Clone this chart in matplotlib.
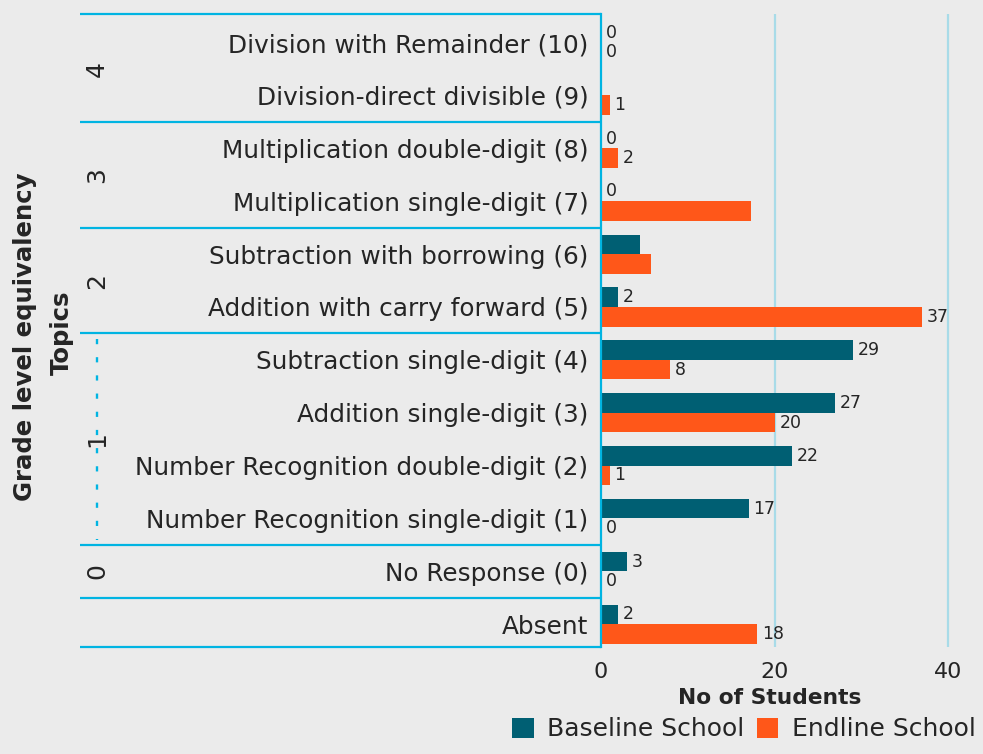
import matplotlib
matplotlib.use("Agg")
import matplotlib.pyplot as plt
import matplotlib.transforms as mtransforms
from matplotlib.patches import Patch
import numpy as np

# ---------------- data ----------------
topics = [
    "Division with Remainder (10)",
    "Division-direct divisible (9)",
    "Multiplication double-digit (8)",
    "Multiplication single-digit (7)",
    "Subtraction with borrowing (6)",
    "Addition with carry forward (5)",
    "Subtraction single-digit (4)",
    "Addition single-digit (3)",
    "Number Recognition double-digit (2)",
    "Number Recognition single-digit (1)",
    "No Response (0)",
    "Absent",
]
baseline = [0, 0, 0, 0, 4.5, 2, 29, 27, 22, 17, 3, 2]
endline = [0, 1, 2, 17.3, 5.8, 37, 8, 20, 1, 0, 0, 18]
baseline_labels = ["0", "", "0", "0", "", "2", "29", "27", "22", "17", "3", "2"]
endline_labels = ["0", "1", "2", "", "", "37", "8", "20", "1", "0", "0", "18"]
grade_groups = ["4", "3", "2", "1", "0", ""]
group_sizes = [2, 2, 2, 4, 1, 1]
x_ticks = [0, 20, 40]
series_names = ["Baseline School", "Endline School"]

# ---------------- style ----------------
plt.rcParams["font.family"] = ["DejaVu Sans"]
BG = "#ebebeb"
C_BASE = "#005f73"
C_END = "#ff5719"
C_LINE = "#00b4e2"
C_GRID = "#a8dbe8"
TXT = "#252525"

W, H = 983, 754
fig = plt.figure(figsize=(W / 100, H / 100), dpi=100, facecolor=BG)
ax = fig.add_axes([601 / W, (H - 647) / H, (W - 601) / W, (647 - 14) / H])
ax.set_facecolor(BG)

n = len(topics)
y = np.arange(n)
bh = 0.37
ax.barh(y - bh / 2, baseline, height=bh, color=C_BASE, zorder=3)
ax.barh(y + bh / 2, endline, height=bh, color=C_END, zorder=3)

xmax = 44.0
ax.set_xlim(0, xmax)
ax.set_ylim(11.43, -0.54)

# value labels
off = 0.55
for i in range(n):
    if baseline_labels[i]:
        ax.text(baseline[i] + off, y[i] - bh / 2, baseline_labels[i], va="center", ha="left",
                fontsize=12.5, color=TXT, zorder=4)
    if endline_labels[i]:
        ax.text(endline[i] + off, y[i] + bh / 2, endline_labels[i], va="center", ha="left",
                fontsize=12.5, color=TXT, zorder=4)

# grid
for xt in x_ticks[1:]:
    ax.axvline(xt, color=C_GRID, lw=1.6, zorder=1)

for s in ["top", "right", "bottom"]:
    ax.spines[s].set_visible(False)
ax.spines["left"].set_color(C_LINE)
ax.spines["left"].set_linewidth(1.6)
ax.spines["left"].set_zorder(5)

ax.set_yticks(y)
ax.set_yticklabels(topics, fontsize=17.8, color=TXT)
ax.tick_params(axis="y", length=0, pad=9)
ax.set_xticks(x_ticks)
ax.set_xticklabels([str(t) for t in x_ticks], fontsize=16, color=TXT)
ax.tick_params(axis="x", length=0, pad=11)

# group band lines
trans = mtransforms.blended_transform_factory(fig.transFigure, ax.transData)
x0f, x1f = 80 / W, 601 / W
bounds = [-0.54] + list(np.cumsum(group_sizes) - 0.5)
bounds[-1] = 11.43
for b in bounds:
    ax.plot([x0f, x1f], [b, b], color=C_LINE, lw=1.6, transform=trans, clip_on=False, zorder=5,
            solid_capstyle="butt")

# group labels
start = -0.5
for g, s in zip(grade_groups, group_sizes):
    c = start + s / 2
    if g:
        ax.text(97 / W, c, g, transform=trans, rotation=90, ha="center", va="center",
                fontsize=18, color=TXT)
    if s >= 4:
        ax.plot([97 / W, 97 / W], [start + 0.1, start + s - 0.1], transform=trans, clip_on=False,
                color=C_LINE, lw=1.7, linestyle=(0, (2.2, 5.5)))
    start += s

# titles
fig.text(25 / W, 1 - 337 / H, "Grade level equivalency", rotation=90, ha="center", va="center",
         fontsize=17.6, fontweight="bold", color=TXT)
fig.text(62 / W, 1 - 333 / H, "Topics", rotation=90, ha="center", va="center",
         fontsize=17.6, fontweight="bold", color=TXT)
fig.text(770 / W, 1 - 698 / H, "No of Students", ha="center", va="center",
         fontsize=15.7, fontweight="bold", color=TXT)

handles = [Patch(facecolor=C_BASE), Patch(facecolor=C_END)]
fig.legend(handles, series_names, loc="lower right", bbox_to_anchor=(991 / W, -0.003), ncol=2,
           frameon=False, fontsize=18, handlelength=0.85, handleheight=0.85, handletextpad=0.55,
           columnspacing=0.5, labelcolor=TXT, borderpad=0.1)

fig.savefig("out.png", dpi=100, facecolor=BG)
